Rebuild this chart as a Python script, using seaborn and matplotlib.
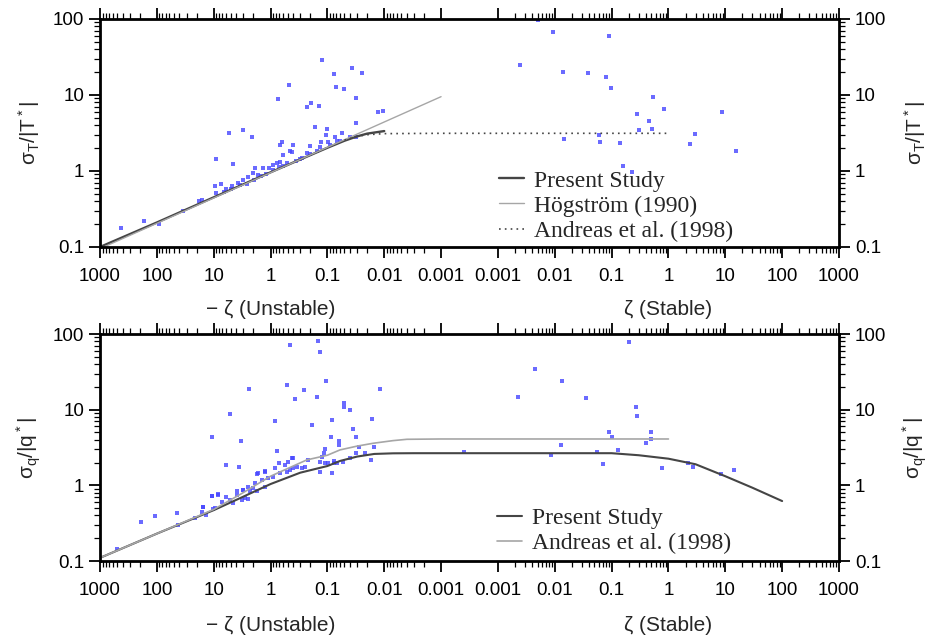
import numpy as np
import pandas as pd
import matplotlib
matplotlib.use("Agg")
import matplotlib.pyplot as plt
import seaborn as sns
from matplotlib.ticker import FixedLocator, FixedFormatter, LogLocator, NullFormatter
from matplotlib.transforms import blended_transform_factory

# ---- data (zeta < 0 : unstable, zeta > 0 : stable) ----
# top panel: sigma_T / |T*|
t_unst_zeta = [433, 168, 92, 35, 17.9, 16.3, 9.5, 7.5, 9.1, 5.4, 4.6, 3.0, 2.15, 0.75, 0.48,
               0.23, 0.197, 0.165, 0.14, 0.124, 0.076, 0.071, 0.051, 0.037, 0.025, 0.032, 0.032,
               0.013, 0.0106,
               0.103, 0.106, 0.131, 0.096, 0.073, 0.069, 0.056, 0.20, 0.64, 0.68, 0.40, 0.455,
               0.42, 0.61, 0.68, 0.78, 0.89, 1.05, 1.34, 1.87, 2.0, 2.46, 0.72, 0.52, 0.28, 0.23,
               0.135, 0.040, 0.032,
               9.1, 6.1, 4.8, 3.7, 3.0, 2.6, 6.6, 1.64, 1.96,
               5.0, 3.5, 1.5, 1.2, 0.9, 0.6, 0.35, 0.3, 0.2, 0.15, 0.09, 0.06]
t_unst_sig = [0.18, 0.22, 0.20, 0.30, 0.40, 0.41, 0.64, 0.67, 1.45, 3.2, 1.22, 3.5, 2.8, 8.9, 13.5,
              7.0, 7.9, 3.8, 7.2, 29, 18.9, 12.6, 11.9, 22.4, 19.3, 9.2, 4.3,
              6.0, 6.2,
              3.57, 2.95, 2.43, 2.39, 2.77, 2.5, 3.13, 2.15, 2.43, 2.2, 2.2, 1.83,
              1.8, 1.63, 1.33, 1.26, 1.2, 1.08, 1.08, 1.08, 0.93, 0.84, 1.14, 1.26, 1.47, 1.71,
              2.09, 2.77, 2.82,
              0.51, 0.58, 0.64, 0.70, 0.76, 0.67, 0.53, 0.89, 0.76,
              0.58, 0.65, 0.86, 0.92, 1.02, 1.17, 1.37, 1.45, 1.66, 1.83, 2.17, 2.46]
t_stab_zeta = [0.005, 0.0094, 0.0897, 0.00247, 0.0138, 0.0389, 0.0785, 0.0973, 0.53, 0.85, 0.285,
               0.447, 8.8, 0.306, 0.51, 0.0607, 0.0147, 0.0617, 0.142, 2.96, 2.39, 15.6, 0.16, 0.225]
t_stab_sig = [97, 67, 60, 25, 20.3, 19.6, 17.1, 12.2, 9.5, 6.5, 5.7,
              4.6, 5.9, 3.46, 3.54, 2.98, 2.61, 2.43, 2.31, 3.07, 2.26, 1.85, 1.17, 0.96]

t_present_zeta = [-1000, -100, -10, -1, -0.1, -0.05, -0.03, -0.02, -0.01]
t_present_sig = [0.1, 0.21, 0.45, 0.96, 2.02, 2.5, 2.85, 3.1, 3.35]
t_hog_zeta = [-1000, -0.001]
t_hog_sig = [0.095, 9.5]
t_andreas_zeta = [-0.05, -0.03, -0.02, -0.01, -0.001, 0.001, 1]
t_andreas_sig = [2.55, 2.85, 3.0, 3.1, 3.13, 3.13, 3.13]

# bottom panel: sigma_q / |q*|
b_unst_zeta = [495, 187, 106, 43.6, 43, 21, 15.2, 10.7, 8.3, 10.6, 6.1, 5.2, 3.6, 3.35, 2.4,
               1.73, 1.24, 0.845, 0.77, 0.70, 0.51, 0.455, 0.37, 0.40, 0.26, 0.184, 0.155, 0.145,
               0.135, 0.107, 0.083, 0.087, 0.110, 0.062, 0.062, 0.051, 0.051, 0.040, 0.036, 0.032,
               0.0164, 0.0119, 0.0275, 0.0173, 0.015,
               0.427, 0.49, 0.217, 0.135, 0.126, 0.115, 0.084, 0.135, 0.248, 0.040, 0.0525, 0.067,
               0.031, 0.0218, 0.11, 0.096, 0.078, 0.078, 0.28, 0.348, 0.40, 0.455, 0.52, 0.68,
               0.89, 1.09, 1.43, 1.87, 2.46, 3.0, 1.64, 1.25, 0.835, 0.557, 1.25,
               16.3, 15.2, 13.6, 10.8, 10.2, 9.5, 8.3, 7.2, 6.1, 5.2, 4.5, 3.9, 3.0, 2.3, 1.75,
               2.82, 3.2, 2.46, 2.0, 3.9, 0.0002]
b_unst_sig = [0.143, 0.33, 0.39, 0.435, 0.30, 0.37, 0.52, 0.73, 0.76, 4.3, 1.84, 8.7, 1.77, 3.8,
              18.7, 1.4, 1.56, 7.0, 2.85, 1.96, 21, 72, 13.8, 2.28, 18.2, 6.2, 14.7, 82,
              58, 24, 7.2, 4.4, 3.0, 3.4, 3.8, 10.8, 12.4, 9.9, 5.6, 4.4,
              7.5, 18.7, 3.2, 2.17, 3.24,
              2.32, 2.06, 2.17, 2.06, 2.39, 2.66, 1.47, 1.52, 1.77, 2.28, 2.06, 2.0,
              2.66, 2.66, 2.0, 2.0, 2.0, 2.1, 1.68, 1.77, 1.68, 1.6, 1.52, 1.45,
              1.30, 1.24, 1.18, 1.07, 0.96, 0.87, 1.45, 1.52, 1.68, 1.86, 0.96,
              0.45, 0.51, 0.41, 0.72, 0.48, 0.50, 0.75, 0.61, 0.70, 0.64, 0.59, 0.83, 0.87, 0.83,
              0.85, 0.68, 0.64, 0.65, 0.92, 0.75, 2.74]
b_stab_zeta = [0.205, 0.0045, 0.0134, 0.00228, 0.0354, 0.265, 0.275, 0.09, 0.485, 0.103, 0.49,
               0.41, 0.0127, 0.127, 0.0546, 0.0085, 0.071, 0.755, 2.2, 2.73, 8.3, 14.2]
b_stab_sig = [79, 34, 24, 14.9, 14.4, 11.0, 8.3, 5.0, 5.1, 4.3, 4.1,
              3.64, 3.45, 2.94, 2.76, 2.5, 1.92, 1.70, 2.0, 1.77, 1.40, 1.60]

b_present_zeta = [-1000, -100, -10, -3.4, -1, -0.3, -0.1, -0.06, -0.03, -0.015, -0.007, -0.003,
                  -0.001, 0.001, 0.1, 0.3, 1, 3, 10, 30, 100]
b_present_sig = [0.11, 0.23, 0.47, 0.68, 1.04, 1.47, 1.8, 2.1, 2.4, 2.6, 2.65, 2.66,
                 2.66, 2.66, 2.66, 2.5, 2.25, 1.9, 1.32, 0.93, 0.62]
b_andreas_zeta = [-1000, -100, -10, -3.4, -1, -0.23, -0.1, -0.06, -0.03, -0.0156, -0.007, -0.004,
                  -0.001, 0.001, 1]
b_andreas_sig = [0.11, 0.23, 0.48, 0.76, 1.32, 2.17, 2.5, 2.94, 3.3, 3.6, 3.9, 4.06,
                 4.1, 4.1, 4.1]

tick_zeta = [-1000, -100, -10, -1, -0.1, -0.01, -0.001, 0.001, 0.01, 0.1, 1, 10, 100, 1000]
tick_text = ["1000", "100", "10", "1", "0.1", "0.01", "0.001",
             "0.001", "0.01", "0.1", "1", "10", "100", "1000"]


# split log axis: -zeta 1000..0.001 on the left, zeta 0.001..1000 on the right
def fwd(z):
    z = np.asarray(z, dtype=float)
    a = np.maximum(np.abs(z), 1e-3)
    return np.where(z <= -1e-3, 3 - np.log10(a),
                    np.where(z >= 1e-3, 10 + np.log10(a), 6.5 + 500 * z))


def inv(u):
    u = np.asarray(u, dtype=float)
    uc = np.clip(u, -20, 30)
    return np.where(uc <= 6, -10.0 ** (3 - uc),
                    np.where(uc >= 7, 10.0 ** (uc - 10), (uc - 6.5) / 500))


sns.set_theme(style="ticks")
plt.rcParams["font.family"] = ["Liberation Sans", "DejaVu Sans"]
plt.rcParams["mathtext.default"] = "regular"

fig = plt.figure(figsize=(9.32, 6.41), dpi=100)
ax_top = fig.add_axes([0.1073, 0.6147, 0.7929, 0.3557])
ax_bot = fig.add_axes([0.1073, 0.1248, 0.7929, 0.3541])

minor_x = []
for e in range(-3, 3):
    for m in range(2, 10):
        minor_x += [-m * 10.0 ** e, m * 10.0 ** e]

dot_col = "#4646ff"
dark = "#454545"
light = "#a6a6a6"


def prep(ax):
    ax.set_xscale("function", functions=(fwd, inv))
    ax.set_yscale("log")


def finish(ax, ylab, xlab_y, leg_anchor):
    ax.set_xlim(-1000, 1000)
    ax.set_ylim(0.1, 100)
    ax.xaxis.set_major_locator(FixedLocator(tick_zeta))
    ax.xaxis.set_major_formatter(FixedFormatter(tick_text))
    ax.xaxis.set_minor_locator(FixedLocator(minor_x))
    ax.xaxis.set_minor_formatter(NullFormatter())
    ax.yaxis.set_major_locator(FixedLocator([0.1, 1, 10, 100]))
    ax.yaxis.set_major_formatter(FixedFormatter(["0.1", "1", "10", "100"]))
    ax.yaxis.set_minor_locator(LogLocator(base=10, subs=np.arange(2, 10)))
    ax.yaxis.set_minor_formatter(NullFormatter())
    ax.tick_params(which="both", direction="out", top=True, right=True,
                   labelright=True, colors="black")
    ax.tick_params(which="major", length=8, width=1.3, labelsize=13.5)
    ax.tick_params(which="minor", length=4, width=0.9)
    ax.tick_params(axis="x", which="major", pad=7)
    for sp in ax.spines.values():
        sp.set_linewidth(2)
        sp.set_color("black")
    ax.set_xlabel("")
    ax.set_ylabel("")
    ax.text(-0.096, 0.5, ylab, rotation=90, transform=ax.transAxes,
            ha="center", va="center", fontsize=15)
    ax.text(1.103, 0.5, ylab, rotation=90, transform=ax.transAxes,
            ha="center", va="center", fontsize=15)
    tr = blended_transform_factory(ax.transData, ax.transAxes)
    ax.text(-1, xlab_y, "\u2212 \u03b6 (Unstable)", transform=tr,
            ha="center", va="center", fontsize=15)
    ax.text(1, xlab_y, "\u03b6 (Stable)", transform=tr,
            ha="center", va="center", fontsize=15)
    ax.legend(loc="center left", bbox_to_anchor=leg_anchor, frameon=False,
              prop={"family": "Liberation Serif", "size": 17},
              handlelength=1.05, handletextpad=0.45, labelspacing=0.15,
              borderpad=0, borderaxespad=0)


# ---- top panel ----
prep(ax_top)
sns.lineplot(x=t_present_zeta, y=t_present_sig, ax=ax_top, color=dark, linewidth=1.7,
             sort=False, estimator=None, label="Present Study")
sns.lineplot(x=t_hog_zeta, y=t_hog_sig, ax=ax_top, color=light, linewidth=1.0,
             sort=False, estimator=None, label="Högström (1990)")
sns.lineplot(x=t_andreas_zeta, y=t_andreas_sig, ax=ax_top, color=dark, linewidth=1.2,
             linestyle=(0, (1, 2.5)), sort=False, estimator=None, label="Andreas et al. (1998)")
top_pts = pd.DataFrame({
    "zeta": [-z for z in t_unst_zeta] + t_stab_zeta,
    "sig": t_unst_sig + t_stab_sig,
})
sns.scatterplot(data=top_pts, x="zeta", y="sig", ax=ax_top, color=dot_col, s=6,
                marker="s", linewidth=0, alpha=0.8, legend=False)
finish(ax_top, "\u03c3$_T$/|T$^*$|", -0.276, (0.54, 0.18))

# ---- bottom panel ----
prep(ax_bot)
sns.lineplot(x=b_present_zeta, y=b_present_sig, ax=ax_bot, color=dark, linewidth=1.5,
             sort=False, estimator=None, label="Present Study")
sns.lineplot(x=b_andreas_zeta, y=b_andreas_sig, ax=ax_bot, color=light, linewidth=1.2,
             sort=False, estimator=None, label="Andreas et al. (1998)")
bot_pts = pd.DataFrame({
    "zeta": [-z for z in b_unst_zeta] + b_stab_zeta,
    "sig": b_unst_sig + b_stab_sig,
})
sns.scatterplot(data=bot_pts, x="zeta", y="sig", ax=ax_bot, color=dot_col, s=6,
                marker="s", linewidth=0, alpha=0.8, legend=False)
finish(ax_bot, "\u03c3$_q$/|q$^*$|", -0.282, (0.537, 0.133))

fig.savefig("out.png", dpi=100)
